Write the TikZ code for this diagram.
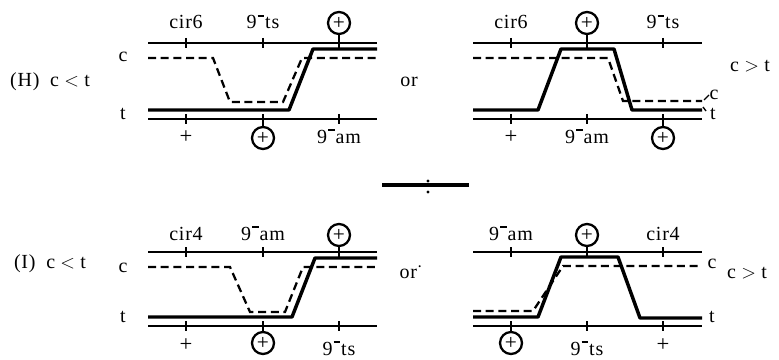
\documentclass[tikz,border=0pt]{standalone}
\usepackage{fontspec}
\setmainfont{Liberation Serif}[LetterSpace=4]
\newcommand{\ninem}{9\kern0.8pt\raisebox{0.6em}{\rule{0.32em}{0.08em}}\kern0.8pt}

\begin{document}
\begin{tikzpicture}[x=0.75pt,y=0.75pt,yscale=-1,xscale=1,
  axis/.style={line width=1.7pt},
  tick/.style={line width=2.2pt},
  tline/.style={line width=2.6pt,line join=round},
  cline/.style={line width=1.7pt,dash pattern=on 6pt off 3.5pt},
  lbl/.style={anchor=base,inner sep=0.75pt,font=\fontsize{15}{18}\selectfont},
  sym/.style={inner sep=0.75pt,font=\fontsize{17}{19}\selectfont},
  oplus/.style={circle,draw,line width=1.7pt,minimum size=16.5pt,inner sep=0pt,font=\fontsize{16}{18}\selectfont}]
\path (0,0) rectangle (779,360);

%%%%%%%%%% (H) c < t, left
%Axis lines
\coordinate (hTL) at (148,43); \coordinate (hTR) at (377,43);
\coordinate (hBL) at (148,119); \coordinate (hBR) at (377,119);
\draw [axis] (hTL) -- (hTR);
\draw [axis] (hBL) -- (hBR);
\draw [tick] (186,38) -- (186,48) (263,38) -- (263,48) (339,38) -- (339,48)
  (186,114) -- (186,124) (263,114) -- (263,124) (339,114) -- (339,124);
%t and c paths
\draw [tline] (148,110) -- (289,110) -- (313,49) -- (377,49);
\draw [cline] (148,58) -- (213,58) -- (230,102) -- (283,102) -- (302,58) -- (377,58);
% Text Node
\node [lbl] (hCir) at (186,29) {cir6};
\node [lbl] (hTs) at (263,29) {\ninem ts};
\node [oplus] (hOa) at (339,23) {+};
\draw [axis] (hOa.south) -- (hOa.south |- hTL);
\node [sym] (hPlus) at (186,137) {+};
\node [oplus] (hOb) at (263,138) {+};
\draw [axis] (hOb.north) -- (hOb.north |- hBL);
\node [lbl] (hAm) at (339,143) {\ninem am};
\node [lbl] (hC) at (123,62) {c};
\node [lbl] (hT) at (123,120) {t};
\node [lbl] (hName) at (50,87) {(H)\hspace{8pt}c\hspace{4pt}$<$\hspace{4pt}t};

%%%%%%%%%% (H) c > t, right
\node [lbl] (hOr) at (409,87) {or};
\coordinate (gTL) at (473,43); \coordinate (gTR) at (702,43);
\coordinate (gBL) at (473,119); \coordinate (gBR) at (702,119);
\draw [axis] (gTL) -- (gTR);
\draw [axis] (gBL) -- (gBR);
\draw [tick] (511,38) -- (511,48) (587,38) -- (587,48) (663,38) -- (663,48)
  (511,114) -- (511,124) (587,114) -- (587,124) (663,114) -- (663,124);
\draw [tline] (473,110) -- (538,110) -- (561,49) -- (614,49) -- (632,110) -- (702,110);
\draw [cline] (473,58) -- (608,58) -- (623,101) -- (702,101);
% Text Node
\node [lbl] (gCir) at (511,29) {cir6};
\node [oplus] (gOa) at (587,23) {+};
\draw [axis] (gOa.south) -- (gOa.south |- gTL);
\node [lbl] (gTs) at (663,29) {\ninem ts};
\node [sym] (gPlus) at (511,137) {+};
\node [lbl] (gAm) at (587,143) {\ninem am};
\node [oplus] (gOb) at (663,138) {+};
\draw [axis] (gOb.north) -- (gOb.north |- gBL);
\node [lbl] (gC) at (714,99) {c};
\node [lbl] (gT) at (713,119) {t};
\draw [line width=1pt] (704,100) -- (709,95);
\draw [line width=1pt] (703,107) -- (706,111);
\node [lbl] (gName) at (750,72) {c\hspace{4pt}$>$\hspace{4pt}t};

%%%%%%%%%% divider
\coordinate (dL) at (382,185); \coordinate (dR) at (469,185);
\draw [line width=2.4pt] (dL) -- (dR);
\fill (428,181) circle (1.3pt);
\fill (428,192) circle (1.3pt);

%%%%%%%%%% (I) c < t, left
\coordinate (iTL) at (148,252); \coordinate (iTR) at (377,252);
\coordinate (iBL) at (148,326); \coordinate (iBR) at (377,326);
\draw [axis] (iTL) -- (iTR);
\draw [axis] (iBL) -- (iBR);
\draw [tick] (186,247) -- (186,257) (263,247) -- (263,257) (339,247) -- (339,257)
  (186,321) -- (186,331) (263,321) -- (263,331) (339,321) -- (339,331);
\draw [tline] (148,317) -- (292,317) -- (315,258) -- (377,258);
\draw [cline] (148,267) -- (230,267) -- (250,312) -- (285,312) -- (303,267) -- (377,267);
% Text Node
\node [lbl] (iCir) at (186,240) {cir4};
\node [lbl] (iAm) at (263,240) {\ninem am};
\node [oplus] (iOa) at (339,235) {+};
\draw [axis] (iOa.south) -- (iOa.south |- iTL);
\node [sym] (iPlus) at (186,345) {+};
\node [oplus] (iOb) at (263,343) {+};
\draw [axis] (iOb.north) -- (iOb.north |- iBL);
\node [lbl] (iTs) at (339,355) {\ninem ts};
\node [lbl] (iC) at (123,272) {c};
\node [lbl] (iT) at (123,322) {t};
\node [lbl] (iName) at (50,268) {(I)\hspace{8pt}c\hspace{4pt}$<$\hspace{4pt}t};

%%%%%%%%%% (I) c > t, right
\node [lbl] (iOr) at (411,278) {or\raisebox{5pt}{$\cdot$}};
\coordinate (jTL) at (473,252); \coordinate (jTR) at (702,252);
\coordinate (jBL) at (473,326); \coordinate (jBR) at (702,326);
\draw [axis] (jTL) -- (jTR);
\draw [axis] (jBL) -- (jBR);
\draw [tick] (511,247) -- (511,257) (587,247) -- (587,257) (663,247) -- (663,257)
  (511,321) -- (511,331) (587,321) -- (587,331) (663,321) -- (663,331);
\draw [tline] (473,317) -- (538,317) -- (561,257) -- (618,257) -- (640,318) -- (702,318);
\draw [cline] (473,311) -- (533,311) -- (563,266) -- (702,266);
% Text Node
\node [lbl] (jAm) at (511,240) {\ninem am};
\node [oplus] (jOa) at (587,235) {+};
\draw [axis] (jOa.south) -- (jOa.south |- jTL);
\node [lbl] (jCir) at (663,240) {cir4};
\node [oplus] (jOb) at (511,343) {+};
\draw [axis] (jOb.north) -- (jOb.north |- jBL);
\node [lbl] (jTs) at (587,355) {\ninem ts};
\node [sym] (jPlus) at (663,345) {+};
\node [lbl] (jC) at (712,268) {c};
\node [lbl] (jT) at (712,322) {t};
\node [lbl] (jName) at (747,278) {c\hspace{4pt}$>$\hspace{4pt}t};

\end{tikzpicture}
\end{document}
